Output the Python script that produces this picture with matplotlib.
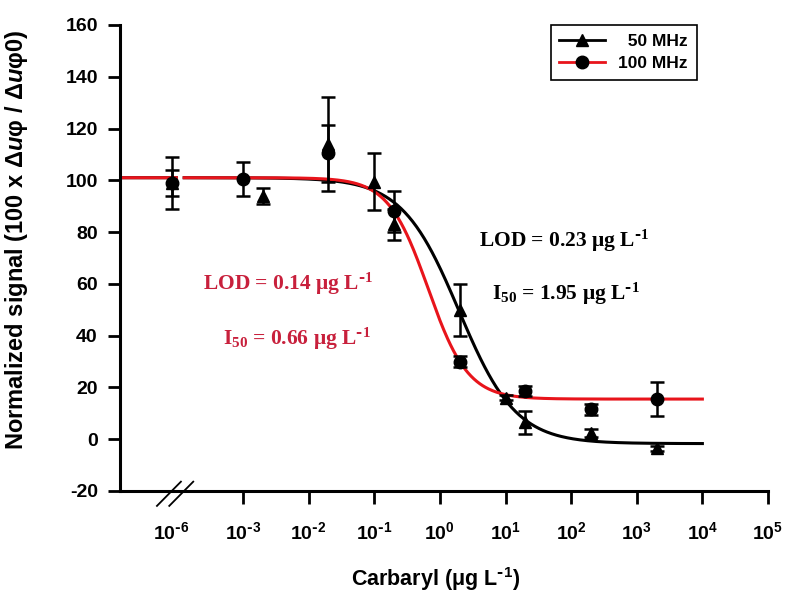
import numpy as np
import matplotlib
matplotlib.use('Agg')
import matplotlib.pyplot as plt
from matplotlib.lines import Line2D

plt.rcParams['font.family'] = ['Liberation Sans', 'DejaVu Sans']
plt.rcParams['font.weight'] = 'bold'
plt.rcParams['mathtext.fontset'] = 'custom'
plt.rcParams['mathtext.it'] = 'Liberation Sans:bold:italic'
plt.rcParams['mathtext.default'] = 'regular'
plt.rcParams['axes.unicode_minus'] = False

# blank sample (0) is shown at the "10^-6" slot left of the axis break
blank_pos = 10**-4.09

# 50 MHz (triangles)
x50 = [0, 0.002, 0.02, 0.1, 0.2, 2, 10, 20, 200, 2000]
y50 = [99, 94, 114, 99.5, 83, 50, 16, 6.5, 2.5, -3.5]
e50 = [5, 3, 18, 11, 6, 10, 1, 4.5, 1.5, 1]

# 100 MHz (circles)
x100 = [0, 0.001, 0.02, 0.2, 2, 20, 200, 2000]
y100 = [99, 100.5, 110.5, 88, 30, 18.6, 11.5, 15.5]
e100 = [10, 6.5, 11, 8, 2, 2, 2, 6.5]

# 4-parameter logistic fits: top, bottom, I50, slope
fit50 = (101.0, -1.7, 1.95, 1.0)
fit100 = (101.0, 15.5, 0.66, 1.43)

xticks = [blank_pos, 1e-3, 1e-2, 1e-1, 1e0, 1e1, 1e2, 1e3, 1e4, 1e5]
xticklabels = [r'$10^{\text{-}6}$', r'$10^{\text{-}3}$', r'$10^{\text{-}2}$',
               r'$10^{\text{-}1}$', '$10^{0}$', '$10^{1}$', '$10^{2}$',
               '$10^{3}$', '$10^{4}$', '$10^{5}$']
yticks = list(range(-20, 161, 20))

red_text = '#c8203c'


def plot_x(xs):
    xs = np.array(xs, dtype=float)
    return np.where(xs <= 0, blank_pos, xs)


def logistic(x, top, bottom, c, h):
    return bottom + (top - bottom) / (1 + (x / c) ** h)


fig = plt.figure(figsize=(7.86, 5.96), dpi=100)
ax = fig.add_axes([0.1527, 0.1762, 0.8244, 0.7819])

xx = np.logspace(-4.875, 4, 600)
gap = (xx > 10**-4.01) & (xx < 10**-3.91)
for fit, col in [(fit50, 'black'), (fit100, '#e8141b')]:
    yy = logistic(xx, *fit)
    yy[gap] = np.nan
    ax.plot(xx, yy, color=col, lw=2.2, zorder=2)

ax.errorbar(plot_x(x50), y50, yerr=e50, fmt='^', color='black', ms=9,
            elinewidth=1.8, capsize=5, capthick=1.8, zorder=3)
ax.errorbar(plot_x(x100), y100, yerr=e100, fmt='o', color='black', ms=9,
            elinewidth=1.8, capsize=5, capthick=1.8, zorder=3)

ax.set_xscale('log')
ax.set_xlim(10**-4.875, 1e5)
ax.set_ylim(-20, 160)
ax.set_xticks(xticks)
ax.set_xticklabels(xticklabels)
ax.minorticks_off()
ax.set_yticks(yticks)
ax.xaxis.get_major_ticks()[0].tick1line.set_visible(False)

for s in ['top', 'right']:
    ax.spines[s].set_visible(False)
for s in ['left', 'bottom']:
    ax.spines[s].set_linewidth(2.2)
ax.tick_params(axis='both', direction='out', length=9, width=2, labelsize=14)
ax.tick_params(axis='x', pad=13)
ax.tick_params(axis='y', pad=7)

# axis break marks
for x0 in [0.057, 0.076]:
    ax.plot([x0, x0 + 0.037], [-0.032, 0.020], color='black', lw=1.3,
            transform=ax.transAxes, clip_on=False)

ax.set_ylabel(r'Normalized signal (100 x Δ$\mathit{u}$φ / Δ$\mathit{u}$φ0)',
              fontsize=17, fontweight='bold')
ax.yaxis.set_label_coords(-0.139, 0.54)
ax.set_xlabel(r'Carbaryl (μg L$^{\text{-}1}$)', fontsize=15.5, fontweight='bold')
ax.xaxis.set_label_coords(0.487, -0.158)

serif = dict(family='Liberation Serif', fontweight='bold', fontsize=15.5)
ax.text(0.554, 0.524, r'LOD = 0.23 μg L$^{\text{-}1}$', color='black', transform=ax.transAxes, **serif)
ax.text(0.574, 0.41, r'I$_{50}$ = 1.95 μg L$^{\text{-}1}$', color='black', transform=ax.transAxes, **serif)
ax.text(0.128, 0.431, r'LOD = 0.14 μg L$^{\text{-}1}$', color=red_text, transform=ax.transAxes, **serif)
ax.text(0.159, 0.313, r'I$_{50}$ = 0.66 μg L$^{\text{-}1}$', color=red_text, transform=ax.transAxes, **serif)

handles = [Line2D([], [], color='black', lw=2, marker='^', ms=9, mfc='black', mec='black'),
           Line2D([], [], color='#e8141b', lw=2, marker='o', ms=9, mfc='black', mec='black')]
leg = ax.legend(handles, ['  50 MHz', '100 MHz'], loc='upper right',
                bbox_to_anchor=(0.89, 1.0), borderaxespad=0, fancybox=False,
                edgecolor='black', framealpha=1, prop={'weight': 'bold', 'size': 12.5},
                handlelength=2.6, borderpad=0.5, labelspacing=0.4)
leg.get_frame().set_linewidth(1.2)

fig.savefig('out.png', dpi=100)
